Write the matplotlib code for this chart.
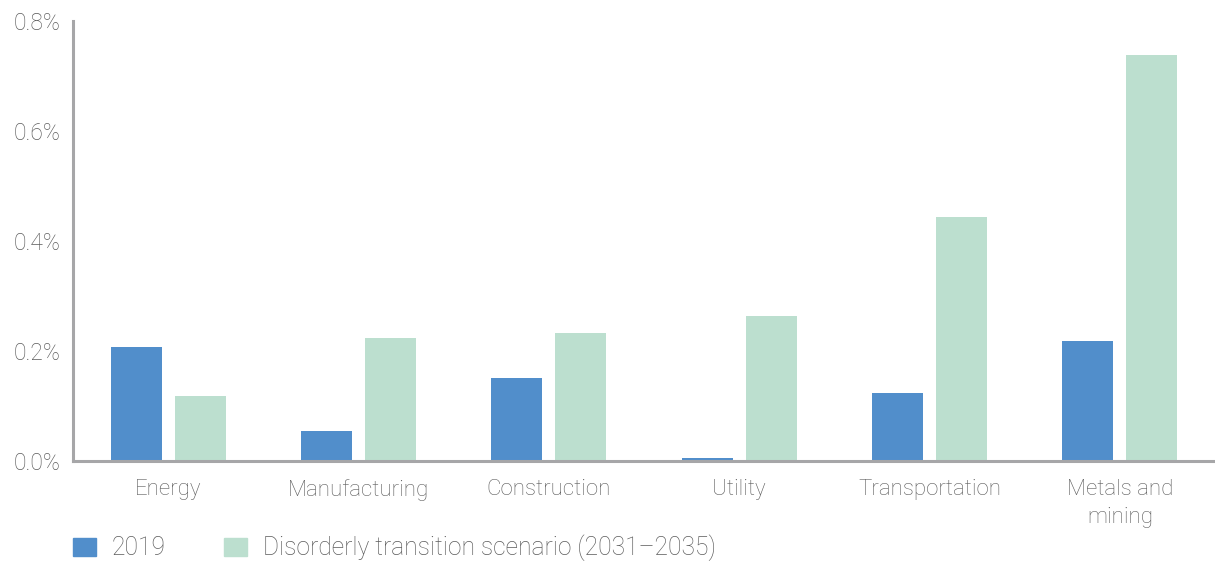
import numpy as np
import matplotlib.pyplot as plt
from matplotlib.patches import Patch
from matplotlib.ticker import FuncFormatter

plt.rcParams["font.family"] = ["Roboto", "DejaVu Sans"]
plt.rcParams["font.weight"] = "light"

SECTORS = ["Energy", "Manufacturing", "Construction", "Utility", "Transportation", "Metals and\nmining"]
PD_2019 = [0.207, 0.055, 0.151, 0.005, 0.124, 0.218]
PD_DISORDERLY = [0.118, 0.224, 0.233, 0.264, 0.444, 0.738]
SERIES_LABELS = ["2019", "Disorderly transition scenario (2031\u20132035)"]

BLUE = "#518ecb"
GREEN = "#bcdfcf"
TEXT = "#5c5c5c"
AXIS = "#a6a6a8"

fig = plt.figure(figsize=(12.15, 5.64), dpi=100)
ax = fig.add_axes([73 / 1215, 103 / 564, 1 - 73 / 1215, 440 / 564])

x = np.arange(len(SECTORS))
width = 0.268
offset = 0.168
ax.bar(x - offset, PD_2019, width, color=BLUE)
ax.bar(x + offset, PD_DISORDERLY, width, color=GREEN)

ax.set_xlim(-0.5, len(SECTORS) - 0.5)
ax.set_ylim(0, 0.8)
ax.set_yticks([0, 0.2, 0.4, 0.6, 0.8])
ax.yaxis.set_major_formatter(FuncFormatter(lambda v, _: f"{v:.1f}%"))
ax.set_xticks(x)
ax.set_xticklabels(SECTORS, linespacing=1.45)

ax.tick_params(axis="x", length=0, labelsize=16, labelcolor=TEXT, pad=13)
ax.tick_params(axis="y", length=0, labelsize=16.5, labelcolor=TEXT, pad=9)

for side in ["top", "right"]:
    ax.spines[side].set_visible(False)
for side in ["left", "bottom"]:
    ax.spines[side].set_color(AXIS)
    ax.spines[side].set_linewidth(2.2)

handles = [Patch(color=BLUE), Patch(color=GREEN)]
fig.legend(
    handles,
    SERIES_LABELS,
    loc="center left",
    bbox_to_anchor=(73 / 1215, 1 - 548 / 564),
    ncol=2,
    frameon=False,
    fontsize=17.7,
    labelcolor=TEXT,
    borderpad=0,
    borderaxespad=0,
    handlelength=0.93,
    handleheight=0.73,
    handletextpad=0.65,
    columnspacing=2.36,
)

fig.savefig("out.png", dpi=100)
